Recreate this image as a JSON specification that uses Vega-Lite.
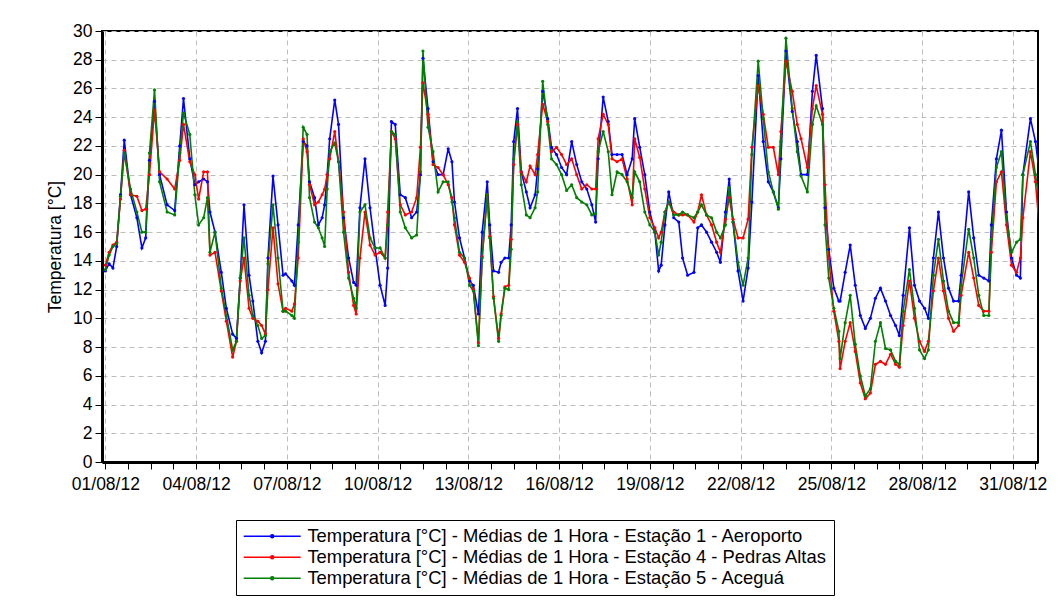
{
 "$schema": "https://vega.github.io/schema/vega-lite/v6.json",
 "width": 936,
 "height": 431,
 "autosize": {"type": "none"},
 "padding": {"left": 102, "top": 31, "right": 20, "bottom": 148},
 "background": "#ffffff",
 "config": {"view": {"stroke": "#000", "strokeWidth": 2}, "font": "Liberation Sans"},
 "data": {"values": [
  {"t":"2012-08-01 00:00","a":13.3,"p":13.7,"g":13.4},
  {"t":"2012-08-01 03:00","a":13.8,"p":14.6,"g":14.4},
  {"t":"2012-08-01 06:00","a":13.5,"p":15.1,"g":15.0},
  {"t":"2012-08-01 09:00","a":15.0,"p":15.3,"g":15.2},
  {"t":"2012-08-01 12:00","a":18.6,"p":18.3,"g":18.5},
  {"t":"2012-08-01 15:00","a":22.4,"p":21.7,"g":21.5},
  {"t":"2012-08-01 20:00","a":18.6,"p":18.6,"g":19.0},
  {"t":"2012-08-02 01:00","a":17.0,"p":18.5,"g":17.4},
  {"t":"2012-08-02 05:00","a":14.9,"p":17.5,"g":16.0},
  {"t":"2012-08-02 08:00","a":15.6,"p":17.6,"g":16.0},
  {"t":"2012-08-02 11:00","a":21.0,"p":20.0,"g":21.5},
  {"t":"2012-08-02 15:00","a":25.1,"p":24.5,"g":25.9},
  {"t":"2012-08-02 19:00","a":20.0,"p":20.2,"g":19.5},
  {"t":"2012-08-03 01:00","a":17.9,"p":19.7,"g":17.4},
  {"t":"2012-08-03 07:00","a":17.5,"p":19.0,"g":17.2},
  {"t":"2012-08-03 11:00","a":22.0,"p":21.0,"g":21.5},
  {"t":"2012-08-03 14:00","a":25.3,"p":23.5,"g":24.3},
  {"t":"2012-08-03 19:00","a":21.1,"p":20.9,"g":22.8},
  {"t":"2012-08-03 23:00","a":19.3,"p":20.0,"g":18.6},
  {"t":"2012-08-04 02:00","a":19.5,"p":18.3,"g":16.5},
  {"t":"2012-08-04 06:00","a":19.7,"p":20.2,"g":17.0},
  {"t":"2012-08-04 09:00","a":19.5,"p":20.2,"g":18.4},
  {"t":"2012-08-04 11:00","a":17.4,"p":14.4,"g":14.6},
  {"t":"2012-08-04 15:00","a":16.0,"p":14.6,"g":16.0},
  {"t":"2012-08-04 20:00","a":13.2,"p":11.9,"g":12.1},
  {"t":"2012-08-05 00:00","a":10.7,"p":9.8,"g":10.2},
  {"t":"2012-08-05 05:00","a":8.9,"p":7.3,"g":7.8},
  {"t":"2012-08-05 08:00","a":8.6,"p":8.4,"g":8.4},
  {"t":"2012-08-05 11:00","a":12.8,"p":12.6,"g":12.8},
  {"t":"2012-08-05 14:00","a":17.9,"p":14.2,"g":15.6},
  {"t":"2012-08-05 18:00","a":13.0,"p":10.7,"g":11.6},
  {"t":"2012-08-05 21:00","a":11.2,"p":10.0,"g":10.2},
  {"t":"2012-08-06 01:00","a":8.4,"p":9.8,"g":9.5},
  {"t":"2012-08-06 04:00","a":7.6,"p":9.5,"g":8.6},
  {"t":"2012-08-06 07:00","a":8.4,"p":8.9,"g":8.8},
  {"t":"2012-08-06 09:00","a":14.2,"p":12.0,"g":13.8},
  {"t":"2012-08-06 13:00","a":19.9,"p":16.3,"g":17.9},
  {"t":"2012-08-06 17:00","a":16.5,"p":12.4,"g":14.2},
  {"t":"2012-08-06 21:00","a":13.0,"p":10.5,"g":10.5},
  {"t":"2012-08-06 23:00","a":13.1,"p":10.7,"g":10.5},
  {"t":"2012-08-07 04:00","a":12.6,"p":10.5,"g":10.2},
  {"t":"2012-08-07 06:00","a":12.3,"p":11.0,"g":10.0},
  {"t":"2012-08-07 09:00","a":16.5,"p":14.2,"g":15.3},
  {"t":"2012-08-07 13:00","a":22.3,"p":22.5,"g":23.3},
  {"t":"2012-08-07 16:00","a":22.0,"p":21.6,"g":22.8},
  {"t":"2012-08-07 18:00","a":19.5,"p":19.3,"g":18.4},
  {"t":"2012-08-07 22:00","a":18.4,"p":17.9,"g":16.7},
  {"t":"2012-08-08 01:00","a":16.5,"p":18.1,"g":16.3},
  {"t":"2012-08-08 04:00","a":17.0,"p":18.6,"g":15.6},
  {"t":"2012-08-08 06:00","a":17.9,"p":19.0,"g":15.0},
  {"t":"2012-08-08 08:00","a":20.0,"p":20.0,"g":19.0},
  {"t":"2012-08-08 10:00","a":22.5,"p":21.1,"g":21.6},
  {"t":"2012-08-08 14:00","a":25.2,"p":23.0,"g":22.2},
  {"t":"2012-08-08 17:00","a":23.5,"p":20.9,"g":20.9},
  {"t":"2012-08-08 21:00","a":17.0,"p":17.4,"g":16.0},
  {"t":"2012-08-09 01:00","a":14.2,"p":13.2,"g":12.8},
  {"t":"2012-08-09 05:00","a":12.5,"p":10.9,"g":11.4},
  {"t":"2012-08-09 07:00","a":12.3,"p":10.3,"g":10.7},
  {"t":"2012-08-09 10:00","a":17.7,"p":14.2,"g":17.4},
  {"t":"2012-08-09 14:00","a":21.1,"p":17.4,"g":17.9},
  {"t":"2012-08-09 18:00","a":17.7,"p":15.1,"g":15.6},
  {"t":"2012-08-09 22:00","a":14.9,"p":14.4,"g":14.9},
  {"t":"2012-08-10 02:00","a":12.3,"p":14.6,"g":14.9},
  {"t":"2012-08-10 06:00","a":10.9,"p":14.2,"g":14.2},
  {"t":"2012-08-10 08:00","a":13.5,"p":17.4,"g":16.5},
  {"t":"2012-08-10 11:00","a":23.7,"p":23.0,"g":23.0},
  {"t":"2012-08-10 14:00","a":23.5,"p":22.5,"g":22.8},
  {"t":"2012-08-10 18:00","a":18.6,"p":17.9,"g":17.4},
  {"t":"2012-08-10 22:00","a":18.4,"p":17.2,"g":16.3},
  {"t":"2012-08-11 03:00","a":17.0,"p":17.4,"g":15.6},
  {"t":"2012-08-11 07:00","a":17.4,"p":18.4,"g":15.8},
  {"t":"2012-08-11 10:00","a":20.0,"p":21.9,"g":20.2},
  {"t":"2012-08-11 12:00","a":28.1,"p":26.4,"g":28.6},
  {"t":"2012-08-11 16:00","a":24.6,"p":24.2,"g":23.3},
  {"t":"2012-08-11 20:00","a":20.9,"p":20.7,"g":21.6},
  {"t":"2012-08-12 00:00","a":20.0,"p":20.5,"g":18.8},
  {"t":"2012-08-12 04:00","a":20.0,"p":20.0,"g":19.5},
  {"t":"2012-08-12 08:00","a":21.8,"p":19.3,"g":19.5},
  {"t":"2012-08-12 11:00","a":20.9,"p":18.4,"g":18.1},
  {"t":"2012-08-12 13:00","a":18.1,"p":16.5,"g":17.0},
  {"t":"2012-08-12 17:00","a":15.6,"p":14.4,"g":14.6},
  {"t":"2012-08-12 21:00","a":14.2,"p":13.9,"g":14.2},
  {"t":"2012-08-13 01:00","a":12.6,"p":12.8,"g":12.3},
  {"t":"2012-08-13 04:00","a":12.3,"p":12.0,"g":11.9},
  {"t":"2012-08-13 08:00","a":10.3,"p":8.3,"g":8.1},
  {"t":"2012-08-13 11:00","a":16.0,"p":14.3,"g":14.2},
  {"t":"2012-08-13 15:00","a":19.5,"p":18.6,"g":18.6},
  {"t":"2012-08-13 17:00","a":16.5,"p":15.7,"g":15.6},
  {"t":"2012-08-13 20:00","a":13.3,"p":11.5,"g":11.4},
  {"t":"2012-08-14 00:00","a":13.2,"p":8.6,"g":8.4},
  {"t":"2012-08-14 02:00","a":13.9,"p":10.3,"g":10.2},
  {"t":"2012-08-14 05:00","a":14.2,"p":12.2,"g":12.1},
  {"t":"2012-08-14 08:00","a":14.2,"p":12.3,"g":12.0},
  {"t":"2012-08-14 10:00","a":16.5,"p":15.5,"g":14.8},
  {"t":"2012-08-14 12:00","a":22.3,"p":20.7,"g":21.1},
  {"t":"2012-08-14 15:00","a":24.6,"p":23.5,"g":23.7},
  {"t":"2012-08-14 18:00","a":20.2,"p":20.2,"g":19.3},
  {"t":"2012-08-14 22:00","a":18.8,"p":19.5,"g":17.2},
  {"t":"2012-08-15 01:00","a":17.7,"p":20.6,"g":17.0},
  {"t":"2012-08-15 05:00","a":18.6,"p":20.0,"g":17.7},
  {"t":"2012-08-15 07:00","a":20.4,"p":21.4,"g":18.8},
  {"t":"2012-08-15 11:00","a":25.8,"p":24.9,"g":26.5},
  {"t":"2012-08-15 15:00","a":23.9,"p":23.7,"g":23.5},
  {"t":"2012-08-15 18:00","a":21.9,"p":21.6,"g":21.1},
  {"t":"2012-08-15 22:00","a":21.4,"p":21.9,"g":20.7},
  {"t":"2012-08-16 02:00","a":20.5,"p":21.4,"g":20.0},
  {"t":"2012-08-16 06:00","a":20.0,"p":20.7,"g":18.9},
  {"t":"2012-08-16 10:00","a":22.3,"p":21.1,"g":19.3},
  {"t":"2012-08-16 14:00","a":20.7,"p":20.0,"g":18.4},
  {"t":"2012-08-16 18:00","a":19.5,"p":19.0,"g":18.1},
  {"t":"2012-08-16 22:00","a":19.0,"p":19.3,"g":17.9},
  {"t":"2012-08-17 02:00","a":17.9,"p":19.0,"g":17.2},
  {"t":"2012-08-17 05:00","a":16.7,"p":19.0,"g":17.3},
  {"t":"2012-08-17 07:00","a":21.1,"p":22.5,"g":21.6},
  {"t":"2012-08-17 11:00","a":25.4,"p":24.2,"g":23.0},
  {"t":"2012-08-17 15:00","a":23.7,"p":23.5,"g":21.6},
  {"t":"2012-08-17 18:00","a":21.4,"p":21.1,"g":18.6},
  {"t":"2012-08-17 22:00","a":21.4,"p":20.9,"g":20.2},
  {"t":"2012-08-18 02:00","a":21.4,"p":21.1,"g":20.0},
  {"t":"2012-08-18 06:00","a":20.0,"p":19.7,"g":19.5},
  {"t":"2012-08-18 10:00","a":21.1,"p":17.9,"g":18.4},
  {"t":"2012-08-18 12:00","a":23.9,"p":22.5,"g":20.2},
  {"t":"2012-08-18 16:00","a":21.9,"p":21.2,"g":19.5},
  {"t":"2012-08-18 20:00","a":20.0,"p":19.0,"g":17.4},
  {"t":"2012-08-19 00:00","a":17.4,"p":17.0,"g":16.5},
  {"t":"2012-08-19 04:00","a":16.0,"p":16.3,"g":16.0},
  {"t":"2012-08-19 07:00","a":13.3,"p":15.6,"g":14.4},
  {"t":"2012-08-19 09:00","a":13.7,"p":16.0,"g":15.3},
  {"t":"2012-08-19 12:00","a":16.5,"p":17.4,"g":17.4},
  {"t":"2012-08-19 15:00","a":18.8,"p":18.1,"g":18.1},
  {"t":"2012-08-19 19:00","a":17.0,"p":17.4,"g":17.2},
  {"t":"2012-08-19 23:00","a":16.7,"p":17.2,"g":17.2},
  {"t":"2012-08-20 02:00","a":14.2,"p":17.2,"g":17.4},
  {"t":"2012-08-20 06:00","a":13.0,"p":17.2,"g":17.2},
  {"t":"2012-08-20 11:00","a":13.2,"p":16.7,"g":17.0},
  {"t":"2012-08-20 14:00","a":16.3,"p":17.4,"g":17.4},
  {"t":"2012-08-20 17:00","a":16.5,"p":18.6,"g":17.9},
  {"t":"2012-08-20 21:00","a":16.0,"p":17.2,"g":17.2},
  {"t":"2012-08-21 01:00","a":15.3,"p":16.5,"g":17.0},
  {"t":"2012-08-21 05:00","a":14.6,"p":15.3,"g":16.0},
  {"t":"2012-08-21 08:00","a":13.9,"p":14.6,"g":15.6},
  {"t":"2012-08-21 12:00","a":17.4,"p":16.9,"g":16.5},
  {"t":"2012-08-21 15:00","a":19.7,"p":18.4,"g":19.1},
  {"t":"2012-08-21 18:00","a":16.7,"p":16.9,"g":16.7},
  {"t":"2012-08-21 22:00","a":13.3,"p":15.6,"g":13.9},
  {"t":"2012-08-22 02:00","a":11.2,"p":15.6,"g":12.3},
  {"t":"2012-08-22 06:00","a":13.5,"p":16.9,"g":14.2},
  {"t":"2012-08-22 09:00","a":18.1,"p":21.9,"g":21.4},
  {"t":"2012-08-22 14:00","a":26.9,"p":26.2,"g":27.9},
  {"t":"2012-08-22 18:00","a":22.3,"p":24.2,"g":23.9},
  {"t":"2012-08-22 22:00","a":19.5,"p":21.9,"g":20.2},
  {"t":"2012-08-23 02:00","a":18.8,"p":21.9,"g":18.8},
  {"t":"2012-08-23 06:00","a":17.7,"p":20.0,"g":17.6},
  {"t":"2012-08-23 08:00","a":21.1,"p":23.0,"g":22.3},
  {"t":"2012-08-23 12:00","a":28.6,"p":27.9,"g":29.5},
  {"t":"2012-08-23 17:00","a":24.4,"p":25.8,"g":24.6},
  {"t":"2012-08-23 21:00","a":22.3,"p":23.5,"g":21.6},
  {"t":"2012-08-24 00:00","a":20.0,"p":22.5,"g":19.9},
  {"t":"2012-08-24 05:00","a":20.0,"p":20.5,"g":18.8},
  {"t":"2012-08-24 09:00","a":25.8,"p":24.6,"g":23.5},
  {"t":"2012-08-24 12:00","a":28.3,"p":26.2,"g":24.8},
  {"t":"2012-08-24 17:00","a":24.6,"p":24.2,"g":23.5},
  {"t":"2012-08-24 19:00","a":17.7,"p":19.3,"g":16.5},
  {"t":"2012-08-24 22:00","a":14.8,"p":14.2,"g":12.8},
  {"t":"2012-08-25 02:00","a":12.1,"p":10.5,"g":10.7},
  {"t":"2012-08-25 06:00","a":11.2,"p":8.4,"g":9.1},
  {"t":"2012-08-25 07:00","a":11.2,"p":6.5,"g":7.2},
  {"t":"2012-08-25 11:00","a":13.2,"p":8.4,"g":9.7},
  {"t":"2012-08-25 15:00","a":15.1,"p":9.7,"g":11.6},
  {"t":"2012-08-25 19:00","a":12.3,"p":7.7,"g":8.2},
  {"t":"2012-08-25 23:00","a":10.2,"p":5.5,"g":6.0},
  {"t":"2012-08-26 03:00","a":9.3,"p":4.4,"g":4.6},
  {"t":"2012-08-26 07:00","a":10.0,"p":4.8,"g":5.1},
  {"t":"2012-08-26 11:00","a":11.4,"p":6.8,"g":8.4},
  {"t":"2012-08-26 15:00","a":12.1,"p":7.0,"g":9.7},
  {"t":"2012-08-26 19:00","a":11.2,"p":6.8,"g":7.9},
  {"t":"2012-08-26 23:00","a":10.2,"p":7.5,"g":7.8},
  {"t":"2012-08-27 03:00","a":9.5,"p":6.8,"g":7.0},
  {"t":"2012-08-27 06:00","a":8.8,"p":6.6,"g":6.8},
  {"t":"2012-08-27 09:00","a":11.6,"p":9.5,"g":10.5},
  {"t":"2012-08-27 14:00","a":16.3,"p":12.6,"g":13.4},
  {"t":"2012-08-27 18:00","a":12.3,"p":10.0,"g":10.7},
  {"t":"2012-08-27 22:00","a":11.2,"p":8.4,"g":7.8},
  {"t":"2012-08-28 02:00","a":10.7,"p":7.7,"g":7.2},
  {"t":"2012-08-28 05:00","a":10.0,"p":8.4,"g":7.8},
  {"t":"2012-08-28 09:00","a":14.2,"p":11.9,"g":13.0},
  {"t":"2012-08-28 13:00","a":17.4,"p":14.2,"g":15.5},
  {"t":"2012-08-28 17:00","a":14.2,"p":11.9,"g":12.6},
  {"t":"2012-08-28 21:00","a":12.1,"p":10.0,"g":10.5},
  {"t":"2012-08-29 01:00","a":11.2,"p":9.1,"g":9.7},
  {"t":"2012-08-29 05:00","a":11.2,"p":9.5,"g":9.7},
  {"t":"2012-08-29 07:00","a":13.0,"p":11.6,"g":12.3},
  {"t":"2012-08-29 13:00","a":18.8,"p":14.6,"g":16.2},
  {"t":"2012-08-29 17:00","a":15.6,"p":12.8,"g":14.2},
  {"t":"2012-08-29 21:00","a":13.0,"p":10.9,"g":11.6},
  {"t":"2012-08-30 01:00","a":12.8,"p":10.5,"g":10.2},
  {"t":"2012-08-30 05:00","a":12.6,"p":10.5,"g":10.2},
  {"t":"2012-08-30 07:00","a":16.5,"p":14.6,"g":15.5},
  {"t":"2012-08-30 11:00","a":21.1,"p":19.5,"g":20.5},
  {"t":"2012-08-30 15:00","a":23.1,"p":20.2,"g":21.6},
  {"t":"2012-08-30 19:00","a":17.4,"p":16.5,"g":17.0},
  {"t":"2012-08-30 23:00","a":14.2,"p":13.7,"g":14.6},
  {"t":"2012-08-31 03:00","a":13.0,"p":13.2,"g":15.3},
  {"t":"2012-08-31 06:00","a":12.8,"p":14.2,"g":15.5},
  {"t":"2012-08-31 08:00","a":20.0,"p":17.0,"g":20.0},
  {"t":"2012-08-31 14:00","a":23.9,"p":21.6,"g":22.3},
  {"t":"2012-08-31 18:00","a":22.3,"p":19.5,"g":20.0},
  {"t":"2012-08-31 22:00","a":19.5,"p":15.3,"g":17.6}
 ]},
 "transform": [{"fold": ["a", "p", "g"], "as": ["s", "v"]}],
 "mark": {"type": "line", "strokeWidth": 1.6, "clip": true, "point": {"filled": true, "size": 10}},
 "encoding": {
  "x": {
   "field": "t", "type": "temporal",
   "scale": {"domain": [{"year": 2012, "month": 7, "date": 31, "hours": 21, "minutes": 20}, {"year": 2012, "month": 8, "date": 31, "hours": 20}]},
   "axis": {
    "title": null,
    "values": [
     {"year":2012,"month":8,"date":1,"hours":0},{"year":2012,"month":8,"date":1,"hours":18},{"year":2012,"month":8,"date":2,"hours":12},{"year":2012,"month":8,"date":3,"hours":6},
     {"year":2012,"month":8,"date":4,"hours":0},{"year":2012,"month":8,"date":4,"hours":18},{"year":2012,"month":8,"date":5,"hours":12},{"year":2012,"month":8,"date":6,"hours":6},
     {"year":2012,"month":8,"date":7,"hours":0},{"year":2012,"month":8,"date":7,"hours":18},{"year":2012,"month":8,"date":8,"hours":12},{"year":2012,"month":8,"date":9,"hours":6},
     {"year":2012,"month":8,"date":10,"hours":0},{"year":2012,"month":8,"date":10,"hours":18},{"year":2012,"month":8,"date":11,"hours":12},{"year":2012,"month":8,"date":12,"hours":6},
     {"year":2012,"month":8,"date":13,"hours":0},{"year":2012,"month":8,"date":13,"hours":18},{"year":2012,"month":8,"date":14,"hours":12},{"year":2012,"month":8,"date":15,"hours":6},
     {"year":2012,"month":8,"date":16,"hours":0},{"year":2012,"month":8,"date":16,"hours":18},{"year":2012,"month":8,"date":17,"hours":12},{"year":2012,"month":8,"date":18,"hours":6},
     {"year":2012,"month":8,"date":19,"hours":0},{"year":2012,"month":8,"date":19,"hours":18},{"year":2012,"month":8,"date":20,"hours":12},{"year":2012,"month":8,"date":21,"hours":6},
     {"year":2012,"month":8,"date":22,"hours":0},{"year":2012,"month":8,"date":22,"hours":18},{"year":2012,"month":8,"date":23,"hours":12},{"year":2012,"month":8,"date":24,"hours":6},
     {"year":2012,"month":8,"date":25,"hours":0},{"year":2012,"month":8,"date":25,"hours":18},{"year":2012,"month":8,"date":26,"hours":12},{"year":2012,"month":8,"date":27,"hours":6},
     {"year":2012,"month":8,"date":28,"hours":0},{"year":2012,"month":8,"date":28,"hours":18},{"year":2012,"month":8,"date":29,"hours":12},{"year":2012,"month":8,"date":30,"hours":6},
     {"year":2012,"month":8,"date":31,"hours":0},{"year":2012,"month":8,"date":31,"hours":18}
    ],
    "labelExpr": "hours(datum.value) == 0 ? timeFormat(datum.value, '%d/%m/%y') : ''",
    "labelOverlap": false,
    "labelFlush": false,
    "labelFontSize": 17.5,
    "labelColor": "#000",
    "labelPadding": 6,
    "tickColor": "#000",
    "tickSize": 7,
    "domainColor": "#000",
    "domainWidth": 3,
    "gridColor": "#bdbdbd",
    "gridDash": [5, 4],
    "gridOpacity": {"condition": {"test": "hours(datum.value) == 0", "value": 1}, "value": 0}
   }
  },
  "y": {
   "field": "v", "type": "quantitative",
   "scale": {"domain": [0, 30], "nice": false},
   "axis": {
    "title": "Temperatura [°C]",
    "titleFontSize": 17.5,
    "titleFontWeight": "normal",
    "titleColor": "#000",
    "titlePadding": 8,
    "values": [0, 2, 4, 6, 8, 10, 12, 14, 16, 18, 20, 22, 24, 26, 28, 30],
    "labelFontSize": 17.5,
    "labelColor": "#000",
    "labelPadding": 3,
    "tickColor": "#000",
    "tickSize": 7,
    "domainColor": "#000",
    "domainWidth": 3,
    "gridColor": "#bdbdbd",
    "gridDash": [5, 4]
   }
  },
  "color": {
   "field": "s", "type": "nominal",
   "scale": {"domain": ["a", "p", "g"], "range": ["#0000ff", "#ff0000", "#008000"]},
   "legend": {
    "title": null,
    "orient": "none",
    "legendX": 134,
    "legendY": 489,
    "direction": "vertical",
    "strokeColor": "#000",
    "fillColor": "#fff",
    "padding": 7,
    "labelFontSize": 18.4,
    "labelColor": "#000",
    "labelLimit": 1000,
    "symbolType": "M-4,0H4M-0.21,0A0.21,0.21,0,1,0,0.21,0A0.21,0.21,0,1,0,-0.21,0",
    "symbolSize": 203,
    "symbolStrokeWidth": 1.5,
    "symbolOffset": 20,
    "labelOffset": 26,
    "rowPadding": 2,
    "labelExpr": "datum.label == 'a' ? 'Temperatura [°C] - Médias de 1 Hora - Estação 1 - Aeroporto' : datum.label == 'p' ? 'Temperatura [°C] - Médias de 1 Hora - Estação 4 - Pedras Altas' : 'Temperatura [°C] - Médias de 1 Hora - Estação 5 - Aceguá'"
   }
  }
 }
}
